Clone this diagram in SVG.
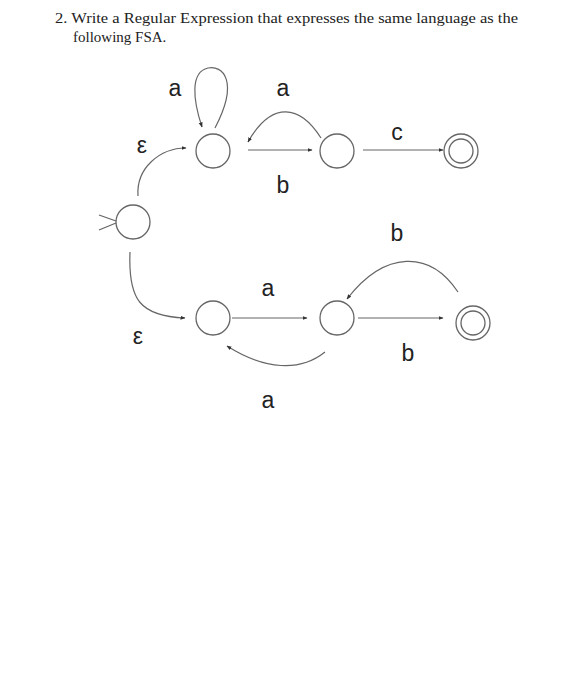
<svg xmlns="http://www.w3.org/2000/svg" width="581" height="700" viewBox="0 0 581 700">
<defs>
<marker id="ah" viewBox="0 0 10 10" refX="9" refY="5" markerWidth="5" markerHeight="5" orient="auto" markerUnits="userSpaceOnUse">
<path d="M0,1 L10,5 L0,9 z" fill="#333"/>
</marker>
<style>
.st{fill:none;stroke:#666;stroke-width:1.3}
.ed{fill:none;stroke:#666;stroke-width:1.2;marker-end:url(#ah)}
.lb{font-family:"Liberation Sans",Arial,sans-serif;font-size:23px;fill:#222;text-anchor:middle}
.tt{font-family:"Liberation Serif","Times New Roman",serif;font-size:15px;fill:#222}
</style>
</defs>
<rect width="581" height="700" fill="#fff"/>
<text class="tt" x="55" y="23" textLength="463" lengthAdjust="spacingAndGlyphs">2. Write a Regular Expression that expresses the same language as the</text>
<text class="tt" x="73" y="42">following FSA.</text>

<g id="q0"><circle class="st" cx="133" cy="222" r="17"/><path class="st" d="M99,215 L116,221 M99,230 L116,223"/></g>
<g id="q1"><circle class="st" cx="213" cy="151" r="17"/></g>
<g id="q2"><circle class="st" cx="337" cy="151" r="17"/></g>
<g id="q3"><circle class="st" cx="461" cy="151" r="17"/><circle class="st" cx="461" cy="151" r="12"/></g>
<g id="q4"><circle class="st" cx="213" cy="318" r="17"/></g>
<g id="q5"><circle class="st" cx="337" cy="318" r="17"/></g>
<g id="q6"><circle class="st" cx="473" cy="323" r="17"/><circle class="st" cx="473" cy="323" r="12"/></g>

<g id="edges">
<path class="ed" d="M138,196 C136,168 160,148 186,148"/>
<path class="ed" d="M215,128 C240,80 222,65 208,68 C190,72 193,100 202,127"/>
<path class="ed" d="M248,150 L312,150"/>
<path class="ed" d="M321,138 C300,105 272,100 248,142"/>
<path class="ed" d="M363,150 L443,150"/>
<path class="ed" d="M130,252 C128,300 140,316 185,318"/>
<path class="ed" d="M232,318 L307,318"/>
<path class="ed" d="M325,352 C300,372 265,370 227,346"/>
<path class="ed" d="M358,318 L443,318"/>
<path class="ed" d="M458,292 C430,250 385,250 347,299"/>
</g>

<g id="labels">
<text class="lb" x="175" y="96">a</text>
<text class="lb" x="283" y="96">a</text>
<text class="lb" x="142" y="153">ε</text>
<text class="lb" x="283" y="193">b</text>
<text class="lb" x="397" y="140">c</text>
<text class="lb" x="397" y="241">b</text>
<text class="lb" x="268" y="296">a</text>
<text class="lb" x="138" y="344">ε</text>
<text class="lb" x="408" y="361">b</text>
<text class="lb" x="268" y="408">a</text>
</g>
</svg>
